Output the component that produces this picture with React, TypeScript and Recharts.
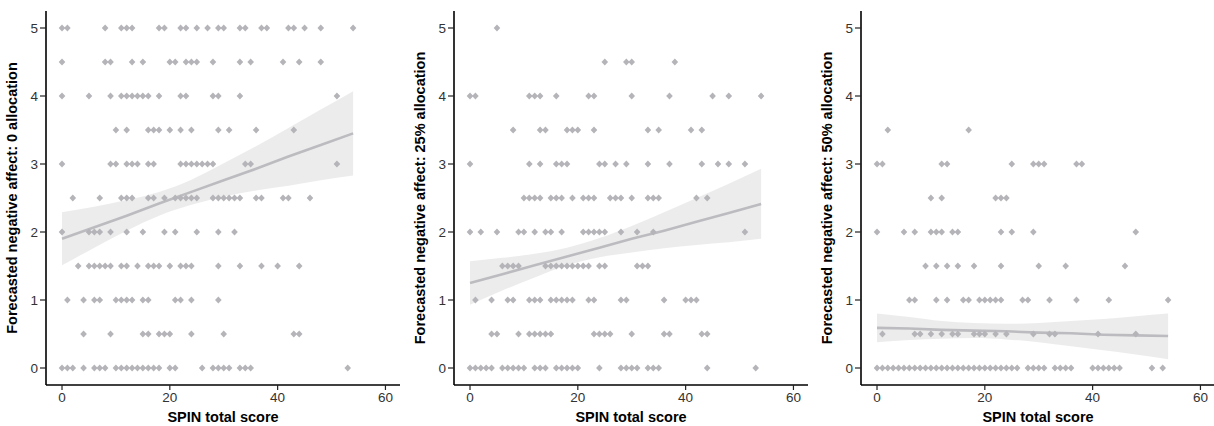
import React from "react";
import { ComposedChart, XAxis, YAxis, Scatter, Area, Line } from "recharts";

// ---------- data (SPIN total score per response row) ----------
type Row = [number, number[]];

const panel1Rows: Row[] = [
  [5, [0, 1, 8, 11, 12, 13, 18, 19, 22, 23, 25, 27, 29, 30, 33, 34, 37, 38, 42, 43, 45, 48, 54]],
  [4.5, [0, 8, 9, 13, 15, 20, 21, 23, 24, 25, 28, 33, 35, 41, 44, 48]],
  [4, [0, 5, 9, 11, 12, 13, 14, 15, 16, 18, 22, 23, 28, 29, 33, 51]],
  [3.5, [10, 12, 16, 17, 18, 20, 22, 24, 29, 31, 36, 43]],
  [3, [0, 9, 10, 12, 13, 14, 16, 17, 22, 23, 24, 25, 26, 27, 28, 34, 35, 51]],
  [2.5, [2, 7, 11, 12, 13, 16, 17, 19, 21, 22, 23, 24, 25, 28, 29, 30, 31, 32, 33, 36, 37, 41, 42, 46]],
  [2, [0, 5, 6, 7, 9, 12, 15, 19, 21, 25, 29, 32]],
  [1.5, [3, 5, 6, 7, 8, 9, 11, 12, 14, 16, 17, 18, 20, 22, 23, 24, 29, 33, 37, 40, 44]],
  [1, [1, 4, 6, 7, 10, 11, 12, 13, 15, 16, 21, 22, 24, 29]],
  [0.5, [4, 9, 15, 16, 18, 19, 20, 24, 30, 43, 44]],
  [0, [0, 1, 2, 4, 6, 7, 8, 10, 11, 12, 13, 14, 15, 16, 17, 18, 20, 21, 26, 28, 29, 30, 31, 33, 34, 35, 53]],
];

const panel2Rows: Row[] = [
  [5, [5]],
  [4.5, [25, 29, 30, 38]],
  [4, [0, 1, 11, 12, 13, 16, 22, 23, 30, 37, 45, 48, 54]],
  [3.5, [8, 13, 14, 18, 19, 20, 23, 33, 35, 41, 43]],
  [3, [0, 11, 13, 16, 17, 18, 24, 25, 27, 29, 33, 37, 43, 46, 48, 51]],
  [2.5, [10, 11, 12, 13, 15, 16, 17, 19, 21, 22, 23, 26, 27, 28, 30, 33, 34, 35, 42, 44]],
  [2, [0, 2, 5, 9, 10, 12, 14, 15, 17, 21, 22, 23, 24, 25, 28, 31, 34, 51]],
  [1.5, [6, 7, 8, 9, 14, 15, 16, 17, 18, 19, 20, 21, 22, 24, 25, 31, 32, 33]],
  [1, [1, 4, 7, 8, 11, 12, 13, 15, 16, 17, 18, 19, 22, 23, 28, 29, 36, 40, 41, 42]],
  [0.5, [4, 5, 9, 11, 12, 13, 14, 15, 23, 24, 25, 26, 30, 36, 37, 43, 44]],
  [0, [0, 1, 2, 3, 4, 6, 7, 8, 9, 10, 12, 13, 14, 16, 17, 18, 19, 20, 24, 28, 29, 30, 31, 33, 34, 35, 44, 53]],
];

const panel3Rows: Row[] = [
  [3.5, [2, 17]],
  [3, [0, 1, 12, 13, 25, 29, 30, 31, 37, 38]],
  [2.5, [10, 12, 22, 23, 24]],
  [2, [0, 5, 7, 10, 11, 12, 14, 15, 23, 25, 29, 48]],
  [1.5, [9, 11, 13, 15, 18, 23, 30, 35, 46]],
  [1, [6, 7, 11, 13, 16, 17, 19, 20, 21, 22, 23, 27, 28, 32, 37, 43, 54]],
  [0.5, [1, 7, 8, 10, 12, 14, 15, 18, 19, 20, 22, 24, 29, 32, 33, 41, 48]],
  [0, [0, 1, 2, 3, 4, 5, 6, 7, 8, 9, 10, 11, 12, 13, 14, 15, 16, 17, 18, 19, 20, 21, 22, 23, 24, 25, 26, 28, 29, 30, 31, 33, 34, 35, 36, 40, 41, 42, 43, 44, 45, 51, 53]],
];

// fitted regression line and 95% band, read at these scores
const fitX = [0, 6, 12, 18, 24, 30, 36, 42, 48, 54];

const fit1 = [1.9, 2.07, 2.24, 2.42, 2.59, 2.76, 2.93, 3.11, 3.28, 3.45];
const lo1 = [1.51, 1.77, 2.02, 2.24, 2.4, 2.52, 2.61, 2.68, 2.76, 2.83];
const hi1 = [2.29, 2.37, 2.47, 2.59, 2.77, 3.01, 3.26, 3.53, 3.8, 4.07];

const fit2 = [1.25, 1.38, 1.51, 1.64, 1.77, 1.9, 2.02, 2.15, 2.28, 2.41];
const lo2 = [0.93, 1.14, 1.33, 1.51, 1.63, 1.7, 1.76, 1.81, 1.85, 1.9];
const hi2 = [1.57, 1.62, 1.68, 1.77, 1.91, 2.09, 2.29, 2.5, 2.71, 2.93];

const fit3 = [0.59, 0.58, 0.56, 0.55, 0.54, 0.52, 0.51, 0.49, 0.48, 0.47];
const lo3 = [0.38, 0.41, 0.43, 0.44, 0.42, 0.38, 0.32, 0.26, 0.2, 0.13];
const hi3 = [0.8, 0.75, 0.69, 0.66, 0.65, 0.66, 0.69, 0.72, 0.76, 0.8];

const xTicks = [0, 20, 40, 60];
const yTicks = [0, 1, 2, 3, 4, 5];

const yLabels = [
  "Forecasted negative affect: 0 allocation",
  "Forecasted negative affect: 25% allocation",
  "Forecasted negative affect: 50% allocation",
];
const xLabel = "SPIN total score";

// ---------- drawing ----------
const FONT = "'Liberation Sans', Arial, Helvetica, sans-serif";
const POINT = "#b4b4b9";

const Diamond = (props: any) => {
  const { cx, cy } = props;
  if (cx == null || cy == null) return null;
  const w = 3.3;
  const h = 3.4;
  return (
    <path
      d={`M${cx},${cy - h}L${cx + w},${cy}L${cx},${cy + h}L${cx - w},${cy}Z`}
      fill={POINT}
    />
  );
};

function Panel({
  rows,
  fit,
  lo,
  hi,
  ylabel,
  left,
}: {
  rows: Row[];
  fit: number[];
  lo: number[];
  hi: number[];
  ylabel: string;
  left: number;
}) {
  const pts = rows.flatMap(([y, xs]) => xs.map((x) => ({ x, y })));
  const fitData = fitX.map((x, i) => ({ x, fit: fit[i], band: [lo[i], hi[i]] }));
  return (
    <div style={{ position: "absolute", left, top: 0 }}>
      <ComposedChart
        width={405}
        height={426}
        data={fitData}
        margin={{ top: 11, right: 5, bottom: 0, left: 0 }}
      >
        <XAxis
          type="number"
          dataKey="x"
          domain={[-2.97, 62.7]}
          allowDataOverflow
          ticks={xTicks}
          height={41}
          tickSize={5}
          tickMargin={2}
          axisLine={{ stroke: "#000", strokeWidth: 1.6 }}
          tickLine={{ stroke: "#222", strokeWidth: 1.2 }}
          tick={{ fill: "#333", fontSize: 13.5, fontFamily: FONT }}
          label={{
            value: xLabel,
            position: "insideBottom",
            offset: 4,
            style: { fontWeight: "bold", fontSize: 14.5, fill: "#000", fontFamily: FONT },
          }}
        />
        <YAxis
          type="number"
          domain={[-0.25, 5.25]}
          allowDataOverflow
          ticks={yTicks}
          width={46}
          tickSize={6}
          tickMargin={2}
          axisLine={{ stroke: "#000", strokeWidth: 1.6 }}
          tickLine={{ stroke: "#222", strokeWidth: 1.2 }}
          tick={{ fill: "#333", fontSize: 13.5, fontFamily: FONT }}
          label={{
            value: ylabel,
            angle: -90,
            position: "insideLeft",
            offset: 12,
            style: {
              textAnchor: "middle",
              fontWeight: "bold",
              fontSize: 14.5,
              fill: "#000",
              fontFamily: FONT,
            },
          }}
        />
        <Scatter data={pts} dataKey="y" shape={Diamond} isAnimationActive={false} />
        <Area
          dataKey="band"
          type="monotone"
          stroke="none"
          fill="#d4d4d4"
          fillOpacity={0.45}
          isAnimationActive={false}
          activeDot={false}
        />
        <Line
          dataKey="fit"
          type="linear"
          stroke="#bcbcc0"
          strokeWidth={2.6}
          dot={false}
          activeDot={false}
          isAnimationActive={false}
        />
      </ComposedChart>
    </div>
  );
}

export default function App() {
  return (
    <div
      style={{
        position: "absolute",
        left: 0,
        top: 0,
        width: 1214,
        height: 426,
        background: "#fff",
        overflow: "hidden",
      }}
    >
      <Panel rows={panel1Rows} fit={fit1} lo={lo1} hi={hi1} ylabel={yLabels[0]} left={0} />
      <Panel rows={panel2Rows} fit={fit2} lo={lo2} hi={hi2} ylabel={yLabels[1]} left={408} />
      <Panel rows={panel3Rows} fit={fit3} lo={lo3} hi={hi3} ylabel={yLabels[2]} left={815} />
    </div>
  );
}
